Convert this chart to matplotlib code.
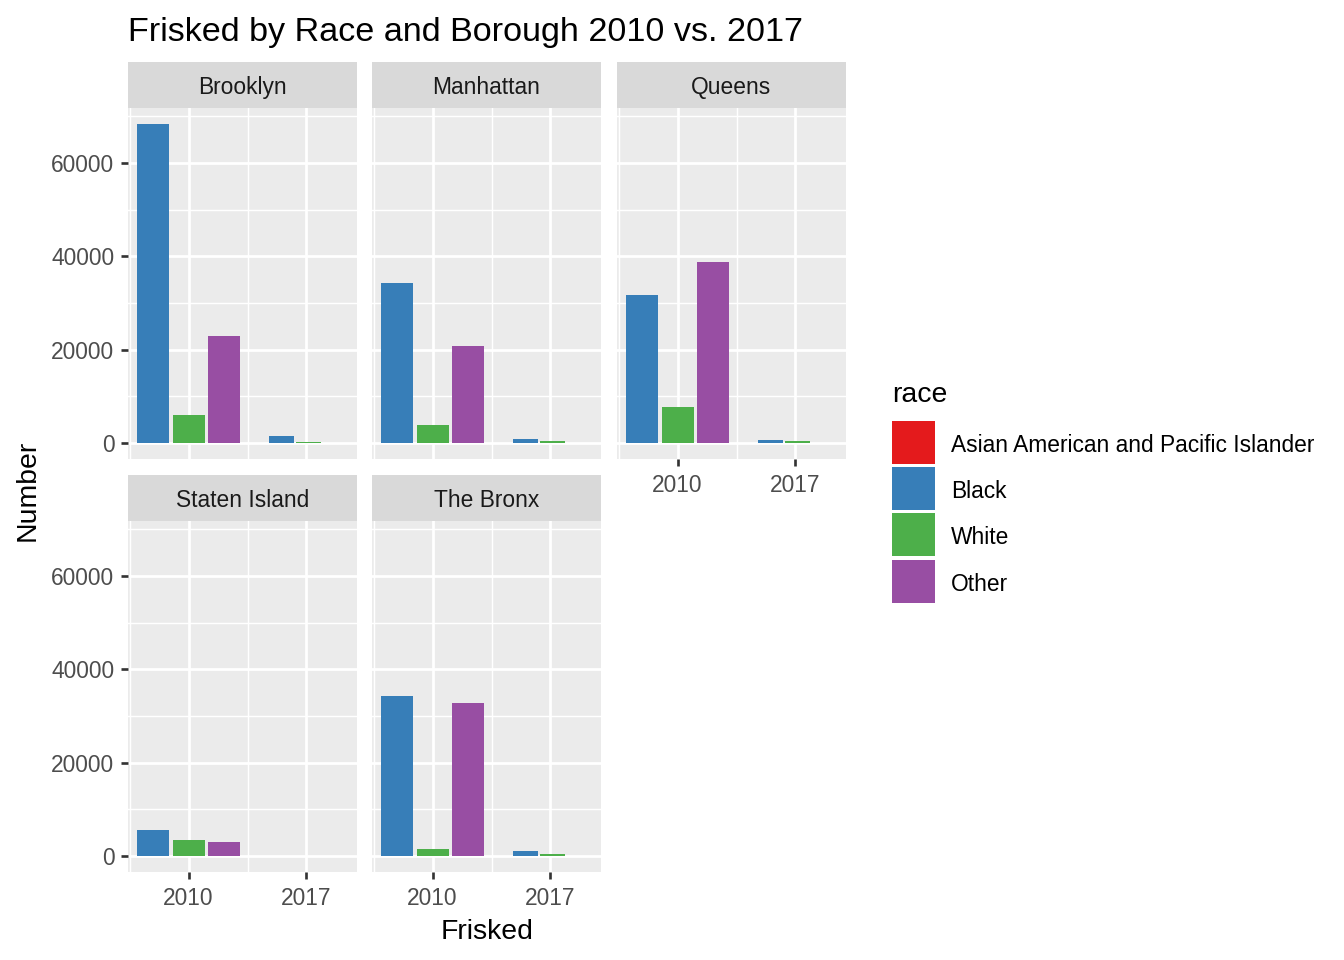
import matplotlib
matplotlib.use("Agg")
import matplotlib.pyplot as plt
from matplotlib.patches import Rectangle

plt.rcParams['font.family'] = ['Liberation Sans', 'DejaVu Sans']

# ---------------- data ----------------
boroughs = ["Brooklyn", "Manhattan", "Queens", "Staten Island", "The Bronx"]
races = ["Asian American and Pacific Islander", "Black", "White", "Other"]
race_colors = ["#E41A1C", "#377EB8", "#4DAF4A", "#984EA3"]
years = [2010, 2017]

black_2010 = [68300, 34400, 31700, 5500, 34400]
white_2010 = [6000, 3800, 7700, 3500, 1600]
other_2010 = [22900, 20700, 38700, 3100, 32700]
black_2017 = [1450, 800, 580, 40, 1070]
white_2017 = [250, 430, 360, 20, 500]
other_2017 = [0, 0, 0, 0, 0]

values = {
    2010: {"Black": black_2010, "White": white_2010, "Other": other_2010},
    2017: {"Black": black_2017, "White": white_2017, "Other": other_2017},
}
present = ["Black", "White", "Other"]

# ---------------- layout ----------------
W, H = 1344, 960
fig = plt.figure(figsize=(7, 5), dpi=192)

FS = 0.97  # font scale
fs_small = 8.8 * FS
fs_mid = 11 * FS
fs_title = 13.2 * FS

col_x = [128, 372, 617]
panel_w = 229
rows = [(108, 459, 62), (521, 872, 475)]  # panel top, panel bottom, strip top
positions = [(0, 0), (0, 1), (0, 2), (1, 0), (1, 1)]

dodge_slot = {2010: 2.1, 2017: 1.6}
dodge_shift = {2010: 0.0, 2017: 0.12}
bar_frac = 0.9

xlim = (2006.4, 2020.0)
ylim = (-3420, 71800)

grid_col = "white"
panel_bg = "#EBEBEB"
strip_bg = "#D9D9D9"
tick_col = "#333333"
ticklab_col = "#4D4D4D"


def fx(px):
    return px / W


def fy(py):
    return 1 - py / H


for i, b in enumerate(boroughs):
    r, c = positions[i]
    top, bot, stop = rows[r]
    ax = fig.add_axes([fx(col_x[c]), fy(bot), fx(panel_w), (bot - top) / H])
    ax.set_facecolor(panel_bg)
    for s in ax.spines.values():
        s.set_visible(False)
    ax.set_xlim(*xlim)
    ax.set_ylim(*ylim)
    ax.set_xticks(years)
    ax.set_xticks([2006.5, 2013.5], minor=True)
    ax.set_yticks([0, 20000, 40000, 60000])
    ax.set_yticks([10000, 30000, 50000, 70000], minor=True)
    ax.grid(True, which="major", color=grid_col, linewidth=1.05)
    ax.grid(True, which="minor", color=grid_col, linewidth=0.53)
    ax.set_axisbelow(True)

    for yr in years:
        slot = dodge_slot[yr]
        for k, race in enumerate(present):
            xc = yr + dodge_shift[yr] + (k - 1) * slot
            ax.bar(xc, values[yr][race][i], width=slot * bar_frac,
                   color=race_colors[races.index(race)], linewidth=0, zorder=2)

    show_y = (c == 0)
    show_x = (r == 1) or (c == 2)
    ax.tick_params(axis="both", which="minor", length=0)
    ax.tick_params(axis="y", which="major", length=2.75, width=1.0, color=tick_col,
                   labelsize=fs_small, labelcolor=ticklab_col, pad=2.4, left=show_y, labelleft=show_y)
    ax.tick_params(axis="x", which="major", length=2.75, width=1.0, color=tick_col,
                   labelsize=fs_small, labelcolor=ticklab_col, pad=3.0, bottom=show_x, labelbottom=show_x)
    ax.set_yticklabels(["0", "20000", "40000", "60000"])
    ax.set_xticklabels(["2010", "2017"])

    # strip
    sax = fig.add_axes([fx(col_x[c]), fy(top), fx(panel_w), (top - stop) / H])
    sax.set_facecolor(strip_bg)
    sax.set_xticks([])
    sax.set_yticks([])
    for s in sax.spines.values():
        s.set_visible(False)
    fig.text(fx(col_x[c] + panel_w / 2), fy(stop + 32), b, ha="center", va="baseline",
             fontsize=fs_small, color="#1A1A1A")

# titles
fig.text(fx(128), fy(41), "Frisked by Race and Borough 2010 vs. 2017", fontsize=fs_title,
         color="black", ha="left", va="baseline")
fig.text(fx(487), fy(939), "Frisked", fontsize=fs_mid, ha="center", va="baseline", color="black")
fig.text(fx(28), fy(490), "Number", fontsize=fs_mid, ha="center", va="center",
         rotation=90, color="black")

# legend
fig.text(fx(892), fy(402), "race", fontsize=fs_mid, ha="left", va="baseline", color="black")
key_tops = [421, 467, 513, 560]
for k, race in enumerate(races):
    t = key_tops[k]
    fig.patches.append(Rectangle((fx(892), fy(t + 43)), fx(43), 43 / H,
                                 transform=fig.transFigure, facecolor=race_colors[k],
                                 edgecolor="none"))
    fig.text(fx(951), fy(t + 31), race, fontsize=fs_small, ha="left", va="baseline", color="black")

fig.savefig("out.png", dpi=192, facecolor="white")
